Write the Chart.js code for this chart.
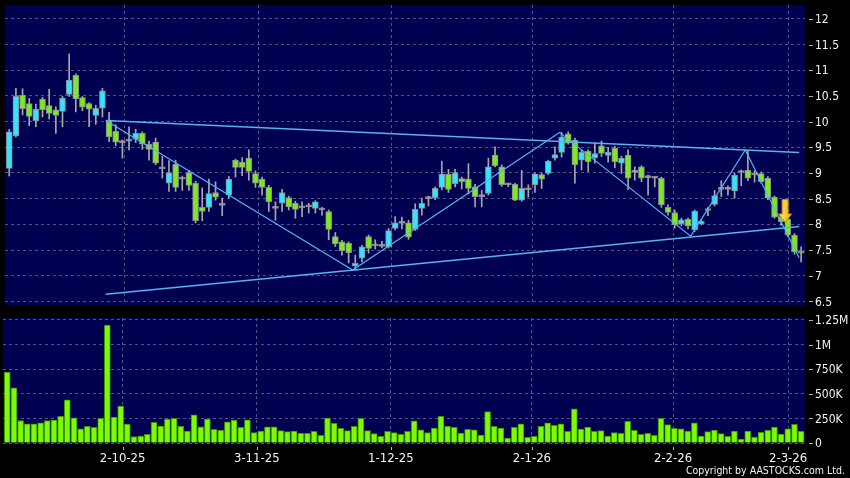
<!DOCTYPE html>
<html>
<head>
<meta charset="utf-8">
<script src="https://cdn.jsdelivr.net/npm/chart.js@4.4.1/dist/chart.umd.min.js"></script>
<style>
    body { margin: 0; background: #000; }
    #wrap { position: relative; width: 850px; height: 478px; background: #000; overflow: hidden; }
    #priceChart { position: absolute; left: 0; top: 0; }
    #volumeChart { position: absolute; left: 0; top: 310px; }
    #copyright {
        position: absolute; right: 5px; top: 464px;
        font: 10.5px 'DejaVu Sans Condensed', 'DejaVu Sans', sans-serif;
        color: #f2f2f2; white-space: nowrap;
    }
</style>
</head>
<body>
<div id="wrap">
    <canvas id="priceChart" width="850" height="310"></canvas>
    <canvas id="volumeChart" width="850" height="168"></canvas>
    <div id="copyright">Copyright by AASTOCKS.com Ltd.</div>
</div>
<script>
// daily candles, one entry per trading day (index 0 = first day on the chart)
const openPrices = [9.09, 9.72, 10.51, 10.35, 10.02, 10.44, 10.31, 10.23, 10.20, 10.53,
    10.90, 10.47, 10.35, 10.12, 10.26, 10.02, 9.81, 9.59, 9.62, 9.66,
    9.77, 9.56, 9.60, 9.08, 8.80, 9.17, 8.88, 9.01, 8.80, 8.33,
    8.33, 8.62, 8.37, 8.57, 9.25, 9.21, 9.29, 8.99, 8.88, 8.72,
    8.31, 8.41, 8.52, 8.41, 8.32, 8.34, 8.31, 8.28, 8.25, 7.76,
    7.66, 7.63, 7.19, 7.34, 7.76, 7.58, 7.57, 7.56, 7.92, 8.02,
    8.03, 7.90, 8.31, 8.50, 8.52, 8.72, 8.98, 8.79, 8.89, 8.88,
    8.73, 8.54, 8.60, 9.35, 9.12, 8.77, 8.78, 8.47, 8.67, 8.77,
    8.97, 8.99, 9.29, 9.40, 9.76, 9.64, 9.25, 9.42, 9.30, 9.53,
    9.34, 9.48, 9.19, 9.35, 9.01, 9.12, 8.91, 8.90, 8.90, 8.33,
    8.23, 8.01, 8.10, 7.89, 8.01, 8.27, 8.39, 8.68, 8.68, 8.65,
    9.01, 9.05, 9.00, 8.99, 8.90, 8.53, 8.15, 8.10, 7.79, 7.46];
const highPrices = [9.85, 10.65, 10.64, 10.45, 10.34, 10.47, 10.63, 10.29, 10.49, 11.32,
    10.93, 10.49, 10.37, 10.32, 10.65, 10.18, 9.94, 9.64, 9.90, 9.85,
    9.80, 9.62, 9.68, 9.32, 9.24, 9.25, 8.94, 9.05, 8.84, 8.71,
    8.88, 8.83, 8.51, 8.93, 9.27, 9.30, 9.45, 9.04, 8.92, 8.76,
    8.44, 8.68, 8.55, 8.45, 8.44, 8.41, 8.46, 8.33, 8.28, 7.84,
    7.69, 7.66, 7.40, 7.59, 7.79, 7.70, 7.67, 7.92, 8.15, 8.14,
    8.08, 8.40, 8.51, 8.55, 8.73, 9.23, 9.07, 9.07, 8.92, 9.18,
    8.78, 8.66, 9.29, 9.51, 9.16, 8.80, 8.80, 9.05, 8.77, 9.00,
    9.00, 9.25, 9.51, 9.79, 9.80, 9.68, 9.45, 9.45, 9.58, 9.62,
    9.50, 9.52, 9.33, 9.45, 9.12, 9.14, 8.96, 8.93, 8.92, 8.38,
    8.28, 8.12, 8.12, 8.28, 8.09, 8.33, 8.66, 8.85, 8.75, 9.00,
    9.06, 9.43, 9.04, 9.02, 8.93, 8.55, 8.20, 8.13, 7.82, 7.56];
const lowPrices = [8.94, 9.70, 10.13, 9.92, 9.90, 10.09, 10.05, 9.77, 9.90, 10.49,
    10.19, 10.21, 9.90, 9.95, 10.09, 9.61, 9.53, 9.29, 9.45, 9.59,
    9.46, 9.25, 9.16, 8.90, 8.64, 8.64, 8.66, 8.66, 8.03, 8.07,
    8.25, 8.47, 8.17, 8.51, 8.92, 8.95, 8.86, 8.72, 8.57, 8.25,
    8.08, 8.25, 8.28, 8.12, 8.15, 8.22, 8.22, 8.18, 7.70, 7.57,
    7.40, 7.25, 7.11, 7.27, 7.44, 7.52, 7.54, 7.54, 7.89, 7.91,
    7.71, 7.88, 8.18, 8.36, 8.48, 8.67, 8.62, 8.73, 8.69, 8.59,
    8.34, 8.34, 8.57, 9.12, 8.74, 8.73, 8.46, 8.45, 8.53, 8.62,
    8.70, 8.97, 9.25, 9.31, 9.56, 8.80, 9.06, 9.03, 9.19, 9.32,
    9.21, 9.10, 8.99, 8.68, 8.86, 8.83, 8.57, 8.73, 8.33, 8.18,
    7.93, 7.97, 7.91, 7.86, 7.99, 8.17, 8.36, 8.54, 8.57, 8.51,
    8.75, 8.85, 8.82, 8.80, 8.48, 8.12, 7.98, 7.76, 7.42, 7.27];
const closePrices = [9.80, 10.49, 10.25, 10.10, 10.24, 10.23, 10.16, 10.12, 10.46, 10.81,
    10.44, 10.28, 10.24, 10.26, 10.60, 9.70, 9.60, 9.59, 9.66, 9.77,
    9.56, 9.46, 9.19, 9.08, 9.01, 8.72, 8.88, 8.76, 8.07, 8.25,
    8.60, 8.53, 8.37, 8.88, 9.11, 9.11, 9.03, 8.80, 8.72, 8.44,
    8.31, 8.62, 8.34, 8.29, 8.32, 8.34, 8.44, 8.28, 7.90, 7.62,
    7.49, 7.45, 7.24, 7.56, 7.53, 7.58, 7.57, 7.88, 8.03, 8.02,
    7.75, 8.29, 8.41, 8.50, 8.70, 8.98, 8.68, 9.01, 8.83, 8.70,
    8.54, 8.54, 9.12, 9.14, 8.77, 8.77, 8.47, 8.70, 8.67, 8.98,
    8.88, 9.23, 9.36, 9.70, 9.58, 9.16, 9.40, 9.22, 9.38, 9.38,
    9.40, 9.22, 9.29, 8.90, 9.05, 8.90, 8.91, 8.90, 8.38, 8.23,
    7.99, 8.09, 7.97, 8.26, 8.06, 8.27, 8.56, 8.68, 8.68, 8.96,
    9.03, 8.90, 8.96, 8.83, 8.51, 8.14, 8.05, 7.79, 7.47, 7.44];
const volumes = [721000, 560000, 229000, 196000, 196000, 206000, 229000, 232000, 270000, 438000,
    256000, 145000, 169000, 159000, 250000, 1199000, 263000, 374000, 192000, 65000,
    71000, 88000, 209000, 172000, 243000, 250000, 169000, 121000, 287000, 165000,
    243000, 139000, 129000, 216000, 233000, 159000, 236000, 105000, 121000, 165000,
    165000, 125000, 115000, 121000, 98000, 98000, 118000, 78000, 253000, 199000,
    149000, 125000, 169000, 250000, 125000, 95000, 68000, 118000, 105000, 88000,
    118000, 226000, 135000, 105000, 152000, 270000, 169000, 159000, 101000, 138000,
    135000, 81000, 320000, 169000, 152000, 51000, 159000, 196000, 58000, 68000,
    169000, 206000, 179000, 196000, 118000, 347000, 142000, 162000, 118000, 125000,
    71000, 105000, 98000, 219000, 128000, 88000, 98000, 78000, 250000, 186000,
    149000, 145000, 121000, 206000, 71000, 115000, 131000, 95000, 68000, 121000,
    41000, 121000, 61000, 108000, 128000, 162000, 91000, 145000, 189000, 118000];

// date labels sit at these day positions
const tickPositions = [17.3, 37.4, 57.5, 78.65, 99.8, 117.05];
const tickLabels = ['2-10-25', '3-11-25', '1-12-25', '2-1-26', '2-2-26', '2-3-26'];
const priceTicks = [6.5, 7, 7.5, 8, 8.5, 9, 9.5, 10, 10.5, 11, 11.5, 12];
const volumeTicks = [0, 250000, 500000, 750000, 1000000, 1250000];

// hand drawn trend lines (day position, price)
const upperLine = [{x: 14.5, y: 10.02}, {x: 118.7, y: 9.40}];
const lowerLine = [{x: 14.5, y: 6.64}, {x: 118.7, y: 7.96}];
const zigzagLine = [{x: 14.5, y: 10.02}, {x: 51.6, y: 7.11}, {x: 82.7, y: 9.79},
    {x: 102.4, y: 7.77}, {x: 110.6, y: 9.45}, {x: 118.7, y: 7.35}];
const arrowPoint = [{x: 116.6, y: 8.26}];

document.addEventListener('DOMContentLoaded', () => {
    const fontFamily = "'DejaVu Sans Condensed', 'DejaVu Sans', sans-serif";
    Chart.defaults.font.family = fontFamily;
    Chart.defaults.font.size = 12;
    Chart.defaults.color = '#f2f2f2';

    const upColor = '#33e3ff';
    const downColor = '#7ee827';
    const flatColor = '#a8a8a8';
    const gridColor = '#50508c';
    const lineColor = '#58b2ec';

    // navy plot area behind everything
    const plotBackground = {
        id: 'plotBackground',
        beforeDraw(chart) {
            const {ctx, chartArea: a} = chart;
            ctx.save();
            ctx.fillStyle = '#000050';
            ctx.fillRect(a.left, a.top, a.width, a.height);
            ctx.restore();
        }
    };

    // the little "-" marks next to the axis labels
    const tickMarks = {
        id: 'tickMarks',
        afterDraw(chart) {
            const {ctx, chartArea: a} = chart;
            ctx.save();
            ctx.strokeStyle = '#b0b0b0';
            ctx.lineWidth = 1;
            const y = chart.scales.y;
            y.ticks.forEach((t, i) => {
                const py = Math.round(y.getPixelForTick(i)) + 0.5;
                ctx.beginPath();
                ctx.moveTo(a.right + 4, py);
                ctx.lineTo(a.right + 8, py);
                ctx.stroke();
            });
            const x = chart.scales.x;
            if (x.options.ticks.display) {
                x.ticks.forEach((t, i) => {
                    const px = Math.round(x.getPixelForTick(i)) + 0.5;
                    ctx.beginPath();
                    ctx.moveTo(px, a.bottom + 4);
                    ctx.lineTo(px, a.bottom + 7);
                    ctx.stroke();
                });
            }
            ctx.restore();
        }
    };

    // no extra room for labels hanging over the ends
    function noPadding(axis) {
        axis.paddingLeft = 0;
        axis.paddingRight = 0;
        axis.paddingTop = 0;
        axis.paddingBottom = 0;
    }

    function xScale(showLabels) {
        return {
            type: 'linear',
            min: -0.64,
            max: 119.58,
            offset: false,
            afterBuildTicks: (axis) => {
                axis.ticks = tickPositions.map(v => ({value: v}));
            },
            afterFit: (axis) => {
                axis.height = showLabels ? 35 : 0;
                noPadding(axis);
            },
            grid: {color: gridColor, drawTicks: false, offset: false},
            border: {display: false, dash: [3, 3]},
            ticks: {
                display: showLabels,
                autoSkip: false,
                maxRotation: 0,
                padding: 8,
                font: {size: 13},
                callback: (value, index) => tickLabels[index]
            }
        };
    }

    function yScale(min, max, tickValues, format) {
        return {
            position: 'right',
            min: min,
            max: max,
            afterBuildTicks: (axis) => {
                axis.ticks = tickValues.map(v => ({value: v}));
            },
            afterFit: (axis) => {
                axis.width = 45;
                noPadding(axis);
            },
            grid: {color: gridColor, drawTicks: false},
            border: {display: false, dash: [3, 3]},
            ticks: {padding: 10, labelOffset: 1, callback: format}
        };
    }

    // candle pieces
    const wickData = highPrices.map((h, i) => ({x: i, y: [lowPrices[i], h]}));
    const bodyData = openPrices.map((o, i) => ({x: i, y: [o, closePrices[i]]}));
    const bodyColors = openPrices.map((o, i) => {
        if (closePrices[i] > o) return upColor;
        if (closePrices[i] < o) return downColor;
        return flatColor;
    });

    // yellow arrow drawn once and used as a point style
    const arrow = document.createElement('canvas');
    arrow.width = 14;
    arrow.height = 24;
    const actx = arrow.getContext('2d');
    const grad = actx.createLinearGradient(0, 0, 14, 0);
    grad.addColorStop(0, '#fff27a');
    grad.addColorStop(1, '#f2a900');
    actx.fillStyle = grad;
    actx.strokeStyle = '#c98a00';
    actx.beginPath();
    actx.moveTo(4, 0.5);
    actx.lineTo(10, 0.5);
    actx.lineTo(10, 15);
    actx.lineTo(13.5, 15);
    actx.lineTo(7, 23.5);
    actx.lineTo(0.5, 15);
    actx.lineTo(4, 15);
    actx.closePath();
    actx.fill();
    actx.stroke();

    new Chart(document.getElementById('priceChart'), {
        type: 'bar',
        data: {
            datasets: [
                {
                    type: 'scatter',
                    data: arrowPoint,
                    pointStyle: arrow,
                    order: 0
                },
                {
                    type: 'line',
                    data: upperLine,
                    borderColor: lineColor,
                    borderWidth: 1.5,
                    pointRadius: 0,
                    order: 1
                },
                {
                    type: 'line',
                    data: lowerLine,
                    borderColor: lineColor,
                    borderWidth: 1.5,
                    pointRadius: 0,
                    order: 1
                },
                {
                    type: 'line',
                    data: zigzagLine,
                    borderColor: lineColor,
                    borderWidth: 1.2,
                    pointRadius: 0,
                    order: 1
                },
                {
                    data: bodyData,
                    backgroundColor: bodyColors,
                    borderColor: 'rgba(150,150,150,0.9)',
                    borderWidth: 1,
                    borderSkipped: false,
                    barThickness: 6,
                    minBarLength: 2,
                    grouped: false,
                    order: 2
                },
                {
                    data: wickData,
                    backgroundColor: flatColor,
                    barThickness: 1,
                    grouped: false,
                    order: 3
                }
            ]
        },
        options: {
            responsive: false,
            animation: false,
            layout: {padding: {left: 3, top: 5, right: 0, bottom: 5}},
            plugins: {legend: {display: false}, tooltip: {enabled: false}},
            scales: {
                x: xScale(false),
                y: yScale(6.43, 12.27, priceTicks, v => String(v))
            }
        },
        plugins: [plotBackground, tickMarks]
    });

    function formatVolume(v) {
        if (v >= 1000000) return (v / 1000000) + 'M';
        if (v >= 1000) return (v / 1000) + 'K';
        return '0';
    }

    new Chart(document.getElementById('volumeChart'), {
        type: 'bar',
        data: {
            datasets: [{
                data: volumes.map((v, i) => ({x: i, y: v})),
                backgroundColor: '#7cfc00',
                borderColor: '#3f8f00',
                borderWidth: 1,
                barThickness: 6
            }]
        },
        options: {
            responsive: false,
            animation: false,
            layout: {padding: {left: 3, top: 8, right: 0, bottom: 0}},
            plugins: {legend: {display: false}, tooltip: {enabled: false}},
            scales: {
                x: xScale(true),
                y: yScale(0, 1270000, volumeTicks, formatVolume)
            }
        },
        plugins: [plotBackground, tickMarks]
    });
});
</script>
</body>
</html>
